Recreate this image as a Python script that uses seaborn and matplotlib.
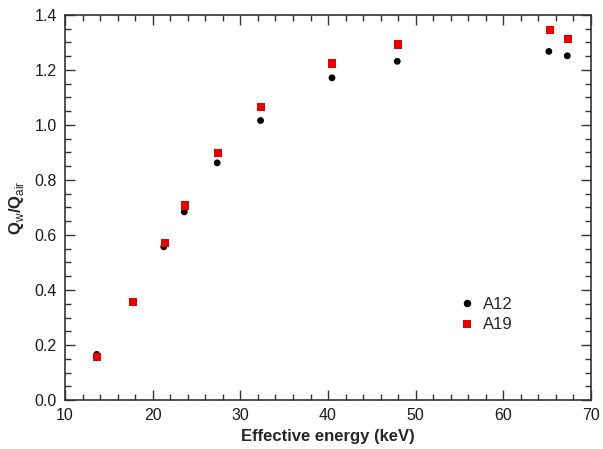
import pandas as pd
import matplotlib
matplotlib.use('Agg')
import matplotlib.pyplot as plt
import seaborn as sns
from matplotlib.ticker import MultipleLocator, FormatStrFormatter

sns.set_style('white')
plt.rcParams['font.family'] = ['Liberation Sans', 'DejaVu Sans']
plt.rcParams['mathtext.fontset'] = 'custom'
plt.rcParams['mathtext.rm'] = 'Liberation Sans'
plt.rcParams['mathtext.bf'] = 'Liberation Sans:bold'

# effective energy (keV) and Qw/Qair per chamber
energy_a12 = [13.6, 21.25, 23.6, 27.35, 32.3, 40.45, 47.9, 65.2, 67.3]
ratio_a12 = [0.166, 0.557, 0.684, 0.862, 1.016, 1.171, 1.231, 1.267, 1.251]

energy_a19 = [13.6, 17.7, 21.35, 23.65, 27.4, 32.4, 40.5, 47.95, 65.3, 67.35]
ratio_a19 = [0.157, 0.355, 0.571, 0.707, 0.898, 1.064, 1.223, 1.292, 1.345, 1.311]

df = pd.concat([
    pd.DataFrame({'energy': energy_a12, 'ratio': ratio_a12, 'chamber': 'A12'}),
    pd.DataFrame({'energy': energy_a19, 'ratio': ratio_a19, 'chamber': 'A19'}),
])

fig = plt.figure(figsize=(6.03, 4.49), dpi=100)
ax = fig.add_axes([0.108, 0.109, 0.872, 0.858])

sns.scatterplot(data=df, x='energy', y='ratio', hue='chamber', style='chamber',
                palette={'A12': 'black', 'A19': '#e60000'},
                markers={'A12': 'o', 'A19': 's'},
                size='chamber', sizes={'A12': 24, 'A19': 34},
                edgecolor='none', linewidth=0, ax=ax)

ax.set_xlim(10, 70)
ax.set_ylim(0, 1.4)
ax.xaxis.set_major_locator(MultipleLocator(10))
ax.xaxis.set_minor_locator(MultipleLocator(2))
ax.yaxis.set_major_locator(MultipleLocator(0.2))
ax.yaxis.set_minor_locator(MultipleLocator(0.05))
ax.yaxis.set_major_formatter(FormatStrFormatter('%.1f'))
ax.tick_params(which='both', direction='in', top=True, right=True,
               bottom=True, left=True, color='#333333', width=1)
ax.tick_params(which='major', length=7.5, labelsize=11.5, pad=6)
ax.tick_params(which='minor', length=4)
for lbl in ax.get_xticklabels() + ax.get_yticklabels():
    lbl.set_color('#1a1a1a')
for s in ax.spines.values():
    s.set_color('#333333')
    s.set_linewidth(1.2)

ax.set_xlabel('Effective energy (keV)', fontsize=12, fontweight='bold', labelpad=4)
ax.set_ylabel(r'$\mathbf{Q}_{\mathrm{w}}\mathbf{/Q}_{\mathrm{air}}$', fontsize=12, labelpad=6)

leg = ax.legend(loc='center left', bbox_to_anchor=(0.724, 0.222), frameon=False,
                fontsize=12, handlelength=0.8, handletextpad=0.55,
                labelspacing=0.35, markerscale=1.1)

fig.savefig('out.png', dpi=100)
